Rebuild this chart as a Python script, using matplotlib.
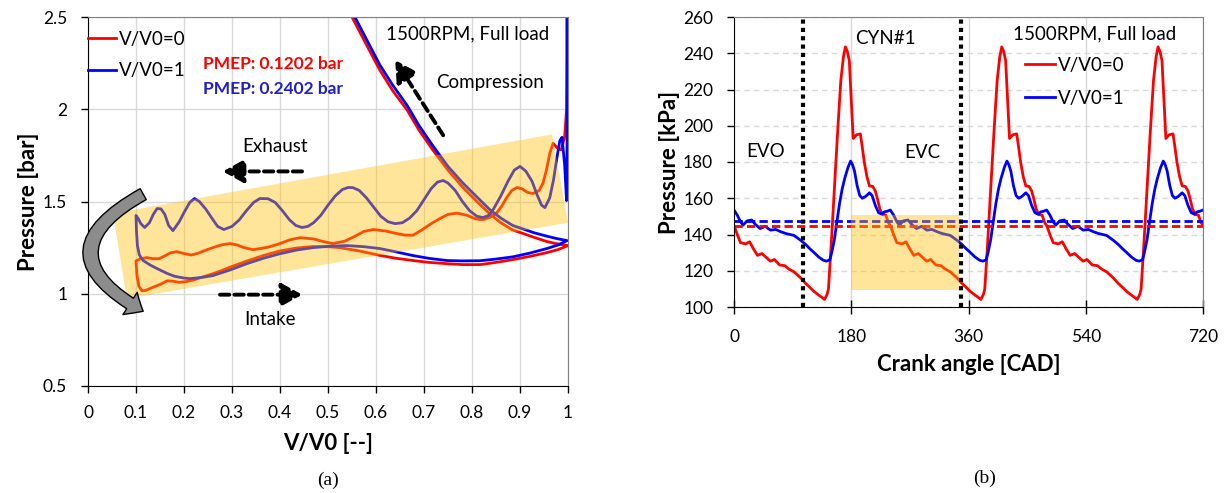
import numpy as np
import matplotlib.pyplot as plt
from matplotlib.patches import Polygon, Rectangle, FancyArrowPatch

plt.rcParams['font.family'] = ['Lato', 'DejaVu Sans']

# ---------------- (a) p-V diagram of the gas exchange loop ----------------
# V/V0=0 (red): blow-down, exhaust stroke, intake stroke, compression
red_v = [0.998, 0.998, 0.997, 0.993, 0.986, 0.978,
         0.969, 0.962, 0.955, 0.948, 0.94, 0.927, 0.915, 0.905, 0.894, 0.883,
         0.872, 0.862, 0.852, 0.838, 0.825, 0.817, 0.805, 0.79, 0.769, 0.75,
         0.735, 0.715, 0.695, 0.677, 0.66, 0.64, 0.62, 0.594, 0.575, 0.555,
         0.535, 0.51, 0.49, 0.47, 0.442, 0.42, 0.40, 0.375, 0.344, 0.325,
         0.31, 0.296, 0.28, 0.26, 0.245, 0.23, 0.215, 0.2, 0.185, 0.172,
         0.16, 0.148, 0.135, 0.123, 0.11, 0.1,
         0.102, 0.106, 0.1125, 0.12, 0.135, 0.15, 0.165, 0.177, 0.19, 0.205,
         0.22, 0.25, 0.275, 0.30, 0.331, 0.365, 0.40, 0.435, 0.469, 0.50,
         0.525, 0.565, 0.608, 0.64, 0.677, 0.71, 0.748, 0.78, 0.817, 0.85,
         0.885, 0.92, 0.956, 0.98, 1.0,
         0.975, 0.956, 0.93, 0.905, 0.885, 0.86, 0.8375, 0.81, 0.781, 0.75,
         0.719, 0.69, 0.665, 0.635, 0.608, 0.58, 0.55, 0.535]
red_p = [2.6, 2.3, 2.0, 1.85, 1.78, 1.79,
         1.815, 1.76, 1.67, 1.60, 1.56, 1.543, 1.55, 1.568, 1.576, 1.56,
         1.52, 1.475, 1.44, 1.415, 1.403, 1.402, 1.408, 1.425, 1.437, 1.43,
         1.41, 1.38, 1.345, 1.317, 1.318, 1.328, 1.34, 1.348, 1.338, 1.31,
         1.285, 1.272, 1.283, 1.297, 1.304, 1.292, 1.272, 1.252, 1.239, 1.25,
         1.265, 1.272, 1.266, 1.25, 1.236, 1.22, 1.21, 1.218, 1.228, 1.222,
         1.205, 1.19, 1.19, 1.196, 1.19, 1.178,
         1.10, 1.04, 1.016, 1.018, 1.035, 1.05, 1.07, 1.068, 1.062, 1.066,
         1.075, 1.10, 1.122, 1.148, 1.177, 1.207, 1.232, 1.248, 1.256, 1.255,
         1.25, 1.232, 1.208, 1.193, 1.18, 1.17, 1.163, 1.158, 1.158, 1.17,
         1.185, 1.202, 1.223, 1.24, 1.261,
         1.272, 1.283, 1.305, 1.328, 1.345, 1.385, 1.432, 1.50, 1.576, 1.67,
         1.777, 1.885, 1.995, 2.10, 2.212, 2.35, 2.5, 2.6]

# V/V0=1 (blue)
blue_v = [0.998, 0.998, 0.998, 0.997,
          0.993, 0.9875, 0.983, 0.977, 0.97, 0.962, 0.952, 0.945, 0.935, 0.925,
          0.912, 0.9, 0.888, 0.875, 0.86, 0.845, 0.835, 0.823, 0.81, 0.795,
          0.78, 0.765, 0.75, 0.74, 0.728, 0.715, 0.70, 0.685, 0.67, 0.655,
          0.64, 0.625, 0.61, 0.595, 0.58, 0.565, 0.552, 0.542, 0.53, 0.515,
          0.50, 0.485, 0.47, 0.458, 0.446, 0.433, 0.42, 0.405, 0.39, 0.375,
          0.358, 0.345, 0.33, 0.315, 0.3, 0.283, 0.27, 0.258, 0.245, 0.232,
          0.222, 0.212, 0.2, 0.19, 0.177, 0.168, 0.16, 0.152, 0.144, 0.136,
          0.128, 0.118, 0.11, 0.104, 0.1,
          0.101, 0.103, 0.107, 0.115, 0.13, 0.145, 0.165, 0.18, 0.2, 0.2125,
          0.235, 0.26, 0.295, 0.331, 0.365, 0.40, 0.435, 0.469, 0.505, 0.54,
          0.575, 0.608, 0.64, 0.677, 0.71, 0.748, 0.78, 0.817, 0.85, 0.885,
          0.92, 0.956, 0.98, 0.998,
          0.975, 0.956, 0.93, 0.905, 0.885, 0.86, 0.8375, 0.81, 0.781, 0.75,
          0.719, 0.69, 0.665, 0.635, 0.608, 0.58, 0.556, 0.54]
blue_p = [2.6, 2.2, 1.8, 1.505,
          1.70, 1.848, 1.83, 1.74, 1.62, 1.52, 1.467, 1.48, 1.54, 1.61,
          1.665, 1.69, 1.67, 1.61, 1.53, 1.46, 1.425, 1.413, 1.42, 1.45,
          1.50, 1.56, 1.60, 1.614, 1.605, 1.57, 1.51, 1.45, 1.41, 1.385,
          1.38, 1.39, 1.42, 1.47, 1.52, 1.56, 1.575, 1.576, 1.565, 1.53,
          1.48, 1.425, 1.385, 1.365, 1.359, 1.37, 1.40, 1.45, 1.495, 1.515,
          1.516, 1.495, 1.45, 1.40, 1.365, 1.348, 1.365, 1.41, 1.46, 1.50,
          1.516, 1.495, 1.44, 1.39, 1.342, 1.37, 1.43, 1.46, 1.462, 1.43,
          1.385, 1.359, 1.38, 1.41, 1.424,
          1.34, 1.26, 1.21, 1.18, 1.155, 1.135, 1.11, 1.095, 1.085, 1.082,
          1.088, 1.098, 1.128, 1.163, 1.192, 1.217, 1.237, 1.25, 1.258, 1.261,
          1.255, 1.245, 1.228, 1.207, 1.192, 1.18, 1.178, 1.179, 1.188, 1.2,
          1.22, 1.245, 1.265, 1.288,
          1.30, 1.312, 1.33, 1.352, 1.37, 1.41, 1.455, 1.525, 1.60, 1.69,
          1.80, 1.91, 2.02, 2.13, 2.24, 2.38, 2.5, 2.6]

# ---------------- (b) exhaust manifold pressure vs crank angle ----------------
# one 240 CAD firing period, repeated three times in the trace
red_cycle_deg = [0, 5, 10, 18, 24, 30, 36, 43, 49, 56, 62, 70, 78, 84, 92, 102,
                 110, 116, 123, 130, 139, 143, 145, 149, 154, 159, 164, 168,
                 171, 174, 177, 180, 183, 188, 194, 197, 200, 204, 208, 213,
                 217, 220, 224, 228, 233, 237]
red_cycle_kpa = [145, 140, 135.5, 134.8, 136, 132, 128.5, 129.5, 127.5, 125.3,
                 126.2, 123.2, 122.8, 121, 119.4, 116.2, 113, 111, 108.5, 106.6,
                 104.2, 107, 110, 133, 165, 196, 225, 238, 243.5, 241, 236, 215,
                 193, 195, 195.5, 188, 180, 172, 166.8, 166.5, 164, 160, 154,
                 151, 150.7, 146.5]
blue_cycle_deg = [0, 5, 10, 14, 20, 27, 33, 40, 48, 56, 64, 72, 80, 92, 102,
                  110, 116, 123, 130, 137, 142, 147, 150, 154, 158, 162, 166,
                  170, 175, 179, 182, 185, 189, 193, 197, 202, 208, 212, 217,
                  222, 227, 231, 235, 238]
blue_cycle_kpa = [153.5, 150.7, 147, 145.2, 147.5, 148, 145.5, 143.3, 144.5,
                  142.4, 142.8, 141.5, 140.5, 139.5, 136.9, 134.5, 132.3, 130,
                  127.6, 125.8, 125.3, 126, 130, 137, 147, 157, 165, 171, 177,
                  180.5, 178.5, 175, 167, 161.5, 160, 161, 163, 161.5, 156, 152,
                  151.2, 152.5, 152.8, 153.2]
n_periods = 3
period = 240
mean_red = 144.5
mean_blue = 147.3
evo = 106
evc = 348

red_deg = np.concatenate([np.array(red_cycle_deg) + k * period for k in range(n_periods)] + [[720]])
red_kpa = np.concatenate([red_cycle_kpa] * n_periods + [[red_cycle_kpa[0]]])
blue_deg = np.concatenate([np.array(blue_cycle_deg) + k * period for k in range(n_periods)] + [[720]])
blue_kpa = np.concatenate([blue_cycle_kpa] * n_periods + [[blue_cycle_kpa[0]]])

RED = '#ff0000'
BLUE = '#0000ff'
BAND = '#ffc000'
W, H = 1229, 493

fig = plt.figure(figsize=(W / 100, H / 100), dpi=100)
ax1 = fig.add_axes([88 / W, 1 - 386 / H, 480 / W, 369 / H])
ax2 = fig.add_axes([734 / W, 1 - 307 / H, 469 / W, 290 / H])


def style_axes(ax):
    ax.set_axisbelow(True)
    for side in ['left', 'bottom']:
        ax.spines[side].set_color('black')
    for side in ['top', 'right']:
        ax.spines[side].set_color('#808080')
    ax.tick_params(labelsize=12.5, direction='out', length=5, width=1, pad=10)


def dashed_arrow(ax, start, end):
    ax.annotate('', xy=end, xytext=start,
                arrowprops=dict(arrowstyle='-|>,head_length=0.9,head_width=0.5',
                                color='black', lw=2.8, linestyle=(0, (2.4, 1.3)),
                                shrinkA=0, shrinkB=0, mutation_scale=14))


# ---- panel (a) ----
style_axes(ax1)
ax1.grid(color='#d9d9d9', lw=1)
ax1.plot(red_v, red_p, color=RED, lw=2, label='V/V0=0')
ax1.plot(blue_v, blue_p, color=BLUE, lw=2, label='V/V0=1')
ax1.add_patch(Polygon([(0.052, 1.435), (0.967, 1.864), (1.0, 1.385), (0.081, 0.973)],
                      closed=True, fc=BAND, ec='none', alpha=0.4, zorder=5))
ax1.set_xlim(0, 1)
ax1.set_ylim(0.5, 2.5)
ax1.set_xticks(np.arange(0, 1.01, 0.1))
ax1.set_xticklabels(['0', '0.1', '0.2', '0.3', '0.4', '0.5', '0.6', '0.7', '0.8', '0.9', '1'])
ax1.set_yticks([0.5, 1, 1.5, 2, 2.5])
ax1.set_yticklabels(['0.5', '1', '1.5', '2', '2.5'])
ax1.tick_params(axis='x', pad=9)
ax1.set_xlabel('V/V0 [--]', fontsize=16, fontweight='bold', labelpad=8)
ax1.set_ylabel('Pressure [bar]', fontsize=16, fontweight='bold', labelpad=3)
ax1.legend(loc='upper left', bbox_to_anchor=(0, 0.962), frameon=False, fontsize=13.5,
           handlelength=1.5, handletextpad=0.15, labelspacing=0.75,
           borderpad=0, borderaxespad=0)
ax1.text(0.24, 2.245, 'PMEP: 0.1202 bar', color=RED, fontsize=12.5,
         fontweight='bold', va='center')
ax1.text(0.24, 2.109, 'PMEP: 0.2402 bar', color='#1f1fcc', fontsize=12.5,
         fontweight='bold', va='center')
ax1.text(0.79, 2.41, '1500RPM, Full load', fontsize=13.5, ha='center', va='center')
ax1.text(0.8375, 2.147, 'Compression', fontsize=13.5, ha='center', va='center')
ax1.text(0.39, 1.80, 'Exhaust', fontsize=13.5, ha='center', va='center')
ax1.text(0.379, 0.859, 'Intake', fontsize=13.5, ha='center', va='center')
dashed_arrow(ax1, (0.446, 1.663), (0.281, 1.663))
dashed_arrow(ax1, (0.275, 0.995), (0.446, 0.995))
dashed_arrow(ax1, (0.740, 1.859), (0.640, 2.266))
ax1.add_patch(FancyArrowPatch((0.115, 1.54), (0.115, 0.905),
                              connectionstyle='arc3,rad=0.9',
                              arrowstyle='simple,head_length=11,head_width=19,tail_width=9',
                              mutation_scale=1, fc='#8c8c8c', ec='black', lw=1,
                              shrinkA=0, shrinkB=0, zorder=6, clip_on=False))

# ---- panel (b) ----
style_axes(ax2)
ax2.grid(axis='x', color='#d9d9d9', lw=1)
ax2.grid(axis='y', color='#d9d9d9', lw=1, ls=(0, (4, 3)))
ax2.plot(red_deg, red_kpa, color=RED, lw=2, label='V/V0=0')
ax2.plot(blue_deg, blue_kpa, color=BLUE, lw=2, label='V/V0=1')
ax2.plot([0, 720], [mean_red, mean_red], color=RED, lw=2, ls=(0, (3, 1.5)))
ax2.plot([0, 720], [mean_blue, mean_blue], color=BLUE, lw=2, ls=(0, (3, 1.5)))
for ca in [evo, evc]:
    ax2.plot([ca, ca], [100, 260], color='black', lw=3, ls=(0, (1, 1)),
             solid_capstyle='butt', dash_capstyle='butt', zorder=4)
ax2.add_patch(Rectangle((180, 109.5), 345 - 180, 151 - 109.5, fc=BAND, ec='none',
                        alpha=0.4, zorder=5))
ax2.set_xlim(0, 720)
ax2.set_ylim(100, 260)
ax2.set_xticks([0, 180, 360, 540, 720])
ax2.set_yticks(np.arange(100, 261, 20))
ax2.tick_params(axis='x', direction='inout', length=10, pad=11)
ax2.set_xlabel('Crank angle [CAD]', fontsize=16, fontweight='bold', labelpad=6)
ax2.set_ylabel('Pressure [kPa]', fontsize=16, fontweight='bold', labelpad=2)
ax2.legend(loc='upper left', bbox_to_anchor=(0.621, 0.862), frameon=False, fontsize=13.5,
           handlelength=1.6, handletextpad=0.15, labelspacing=0.85,
           borderpad=0, borderaxespad=0)
ax2.text(48.5, 185.7, 'EVO', fontsize=13.5, ha='center', va='center')
ax2.text(289, 185, 'EVC', fontsize=13.5, ha='center', va='center')
ax2.text(233, 248, 'CYN#1', fontsize=13.5, ha='center', va='center')
ax2.text(554, 250.6, '1500RPM, Full load', fontsize=13.5, ha='center', va='center')

fig.text(328 / W, 1 - 480 / H, '(a)', fontsize=14, family='Liberation Serif',
         ha='center', va='center')
fig.text(985 / W, 1 - 478 / H, '(b)', fontsize=14, family='Liberation Serif',
         ha='center', va='center')

fig.savefig('out.png', dpi=100)
